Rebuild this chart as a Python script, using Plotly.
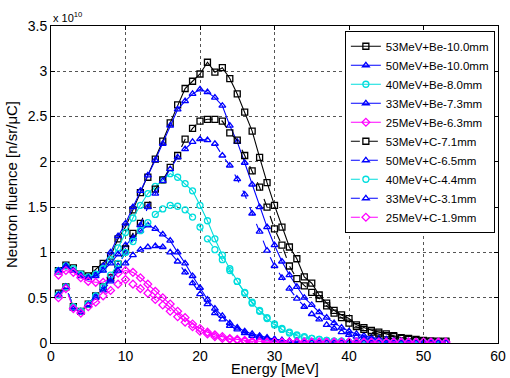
import plotly.graph_objects as go

energy = list(range(1, 54))

be53 = [0.80, 0.86, 0.83, 0.76, 0.74, 0.81, 0.88, 0.96, 1.15, 1.28, 1.47, 1.66, 1.83, 2.03, 2.23, 2.43, 2.63, 2.81, 2.89, 2.97,
        3.10, 2.99, 3.04, 2.92, 2.75, 2.55, 2.34, 2.05, 1.77, 1.52, 1.28, 1.06, 0.93, 0.73, 0.66, 0.53, 0.44, 0.36, 0.31, 0.27,
        0.20, 0.17, 0.14, 0.12, 0.10, 0.08, 0.06, 0.05, 0.04, 0.03, 0.02, 0.02, 0.02]
be50 = [0.78, 0.85, 0.80, 0.75, 0.72, 0.76, 0.85, 1.00, 1.18, 1.32, 1.50, 1.68, 1.85, 2.02, 2.20, 2.40, 2.58, 2.67, 2.75, 2.80,
        2.77, 2.71, 2.62, 2.40, 2.22, 1.99, 1.75, 1.50, 1.28, 1.08, 0.90, 0.75, 0.62, 0.50, 0.42, 0.34, 0.28, 0.22, 0.17, 0.13,
        0.10, 0.08, 0.06, 0.05, 0.04, 0.03, 0.02, 0.02, 0.01, 0.01, 0.01, 0.01, 0.01]
be40 = [0.80, 0.85, 0.82, 0.76, 0.73, 0.76, 0.82, 0.92, 1.05, 1.22, 1.38, 1.52, 1.65, 1.73, 1.80, 1.87, 1.83, 1.76, 1.68, 1.52,
        1.35, 1.15, 0.97, 0.82, 0.68, 0.55, 0.44, 0.35, 0.27, 0.20, 0.15, 0.11, 0.08, 0.06, 0.05, 0.04, 0.03, 0.02, 0.02, 0.01,
        0.01, 0.01, 0.01, 0.01, 0.01, 0.01, 0.01, 0.01, 0.01, 0.01, 0.01, 0.01, 0.01]
be33 = [0.80, 0.85, 0.80, 0.74, 0.72, 0.74, 0.80, 0.88, 0.98, 1.08, 1.17, 1.24, 1.30, 1.26, 1.20, 1.13, 1.00, 0.88, 0.74, 0.61,
        0.48, 0.38, 0.30, 0.22, 0.17, 0.13, 0.10, 0.08, 0.06, 0.04, 0.03, 0.02, 0.02, 0.01, 0.01, 0.01, 0.01, 0.01, 0.01, 0.01,
        0.01, 0.01, 0.01, 0.01, 0.01, 0.01, 0.01, 0.01, 0.01, 0.01, 0.01, 0.01, 0.01]
be25 = [0.75, 0.80, 0.78, 0.72, 0.68, 0.67, 0.67, 0.72, 0.77, 0.80, 0.78, 0.72, 0.65, 0.57, 0.50, 0.43, 0.35, 0.28, 0.21, 0.16,
        0.12, 0.09, 0.07, 0.05, 0.04, 0.03, 0.02, 0.02, 0.01, 0.01, 0.01, 0.01, 0.01, 0.01, 0.01, 0.01, 0.01, 0.01, 0.01, 0.01,
        0.01, 0.01, 0.01, 0.01, 0.01, 0.01, 0.01, 0.01, 0.01, 0.01, 0.01, 0.01, 0.01]
c53 = [0.55, 0.62, 0.40, 0.35, 0.43, 0.52, 0.62, 0.72, 0.87, 1.04, 1.21, 1.32, 1.52, 1.70, 1.80, 1.94, 2.07, 2.25, 2.37, 2.45,
       2.47, 2.47, 2.45, 2.32, 2.24, 2.07, 1.90, 1.72, 1.50, 1.26, 1.08, 0.85, 0.71, 0.63, 0.56, 0.49, 0.41, 0.33, 0.28, 0.22,
       0.18, 0.15, 0.12, 0.10, 0.08, 0.07, 0.05, 0.04, 0.03, 0.02, 0.02, 0.01, 0.01]
c50 = [0.53, 0.62, 0.40, 0.35, 0.43, 0.52, 0.60, 0.70, 0.85, 1.00, 1.15, 1.30, 1.50, 1.65, 1.79, 1.92, 2.05, 2.14, 2.22, 2.25,
       2.24, 2.20, 2.07, 1.96, 1.81, 1.64, 1.43, 1.23, 1.02, 0.85, 0.72, 0.60, 0.49, 0.40, 0.32, 0.26, 0.20, 0.16, 0.12, 0.09,
       0.07, 0.05, 0.04, 0.03, 0.02, 0.02, 0.01, 0.01, 0.01, 0.01, 0.01, 0.01, 0.01]
c40 = [0.53, 0.62, 0.40, 0.35, 0.43, 0.52, 0.62, 0.75, 0.88, 1.00, 1.12, 1.24, 1.33, 1.42, 1.48, 1.52, 1.51, 1.47, 1.39, 1.28,
       1.15, 1.03, 0.92, 0.80, 0.68, 0.56, 0.45, 0.36, 0.28, 0.21, 0.16, 0.12, 0.09, 0.07, 0.05, 0.04, 0.03, 0.02, 0.02, 0.01,
       0.01, 0.01, 0.01, 0.01, 0.01, 0.01, 0.01, 0.01, 0.01, 0.01, 0.01, 0.01, 0.01]
c33 = [0.53, 0.62, 0.38, 0.34, 0.42, 0.50, 0.58, 0.68, 0.80, 0.88, 0.97, 1.03, 1.06, 1.07, 1.06, 1.00, 0.90, 0.78, 0.66, 0.54,
       0.43, 0.33, 0.26, 0.19, 0.15, 0.11, 0.08, 0.06, 0.05, 0.04, 0.03, 0.02, 0.02, 0.01, 0.01, 0.01, 0.01, 0.01, 0.01, 0.01,
       0.01, 0.01, 0.01, 0.01, 0.01, 0.01, 0.01, 0.01, 0.01, 0.01, 0.01, 0.01, 0.01]
c25 = [0.50, 0.60, 0.38, 0.33, 0.40, 0.45, 0.52, 0.58, 0.65, 0.70, 0.65, 0.60, 0.55, 0.48, 0.42, 0.35, 0.29, 0.23, 0.18, 0.13,
       0.10, 0.07, 0.05, 0.04, 0.03, 0.02, 0.01, 0.01, 0.01, 0.01, 0.01, 0.01, 0.01, 0.01, 0.01, 0.01, 0.01, 0.01, 0.01, 0.01,
       0.01, 0.01, 0.01, 0.01, 0.01, 0.01, 0.01, 0.01, 0.01, 0.01, 0.01, 0.01, 0.01]

names = ["53MeV+Be-10.0mm", "50MeV+Be-10.0mm", "40MeV+Be-8.0mm", "33MeV+Be-7.3mm", "25MeV+Be-6.3mm",
         "53MeV+C-7.1mm", "50MeV+C-6.5mm", "40MeV+C-4.4mm", "33MeV+C-3.1mm", "25MeV+C-1.9mm"]
series = [be53, be50, be40, be33, be25, c53, c50, c40, c33, c25]
colors = ["#000000", "#0000FF", "#00DDDD", "#0000FF", "#FF00FF"] * 2
symbols = ["square-open", "triangle-up-open", "circle-open", "triangle-up-open", "diamond-open"] * 2
dashes = ["solid"] * 5 + ["dash"] * 5

fig = go.Figure()
for nm, ys, col, sym, dsh in zip(names, series, colors, symbols, dashes):
    fig.add_trace(go.Scatter(
        x=energy, y=ys, name=nm, mode="lines+markers",
        line=dict(color=col, width=1.1, dash=dsh),
        marker=dict(symbol=sym, size=6, color=col, line=dict(width=1.3, color=col)),
    ))

axis_common = dict(
    showline=True, linecolor="black", linewidth=1, mirror="allticks",
    ticks="inside", ticklen=4, tickcolor="black",
    showgrid=True, gridcolor="#555555", griddash="dot", gridwidth=1,
    zeroline=False, tickfont=dict(size=14, color="black"),
)
fig.update_xaxes(range=[0, 60], dtick=10, tick0=0, **axis_common)
fig.update_yaxes(range=[0, 3.5], dtick=0.5, tick0=0,
                 title=dict(text="Neutron fluence [n/sr/μC]", font=dict(size=15, color="black"), standoff=6),
                 **axis_common)

fig.add_annotation(xref="paper", yref="paper", x=0.5, y=0, xanchor="center", yanchor="top", yshift=-16,
                   text="Energy [MeV]", showarrow=False, font=dict(size=14.5, color="black"))
fig.add_annotation(xref="paper", yref="paper", x=0.0, y=1.0, xanchor="left", yanchor="bottom",
                   text="x 10<sup>10</sup>", showarrow=False, font=dict(size=11, color="black"))

fig.update_layout(
    width=510, height=378,
    margin=dict(l=51, r=12, t=26, b=35, autoexpand=False),
    paper_bgcolor="white", plot_bgcolor="white",
    font=dict(family="Liberation Sans, Arial, sans-serif", color="black"),
    legend=dict(x=0.993, y=0.985, xanchor="right", yanchor="top",
                bgcolor="white", bordercolor="black", borderwidth=1,
                font=dict(size=11.5, color="black"), tracegroupgap=0,
                itemwidth=30),
)

fig.write_html("out.html", config={"displayModeBar": False},
               post_script="document.body.style.margin='0';document.body.style.overflow='hidden';")
